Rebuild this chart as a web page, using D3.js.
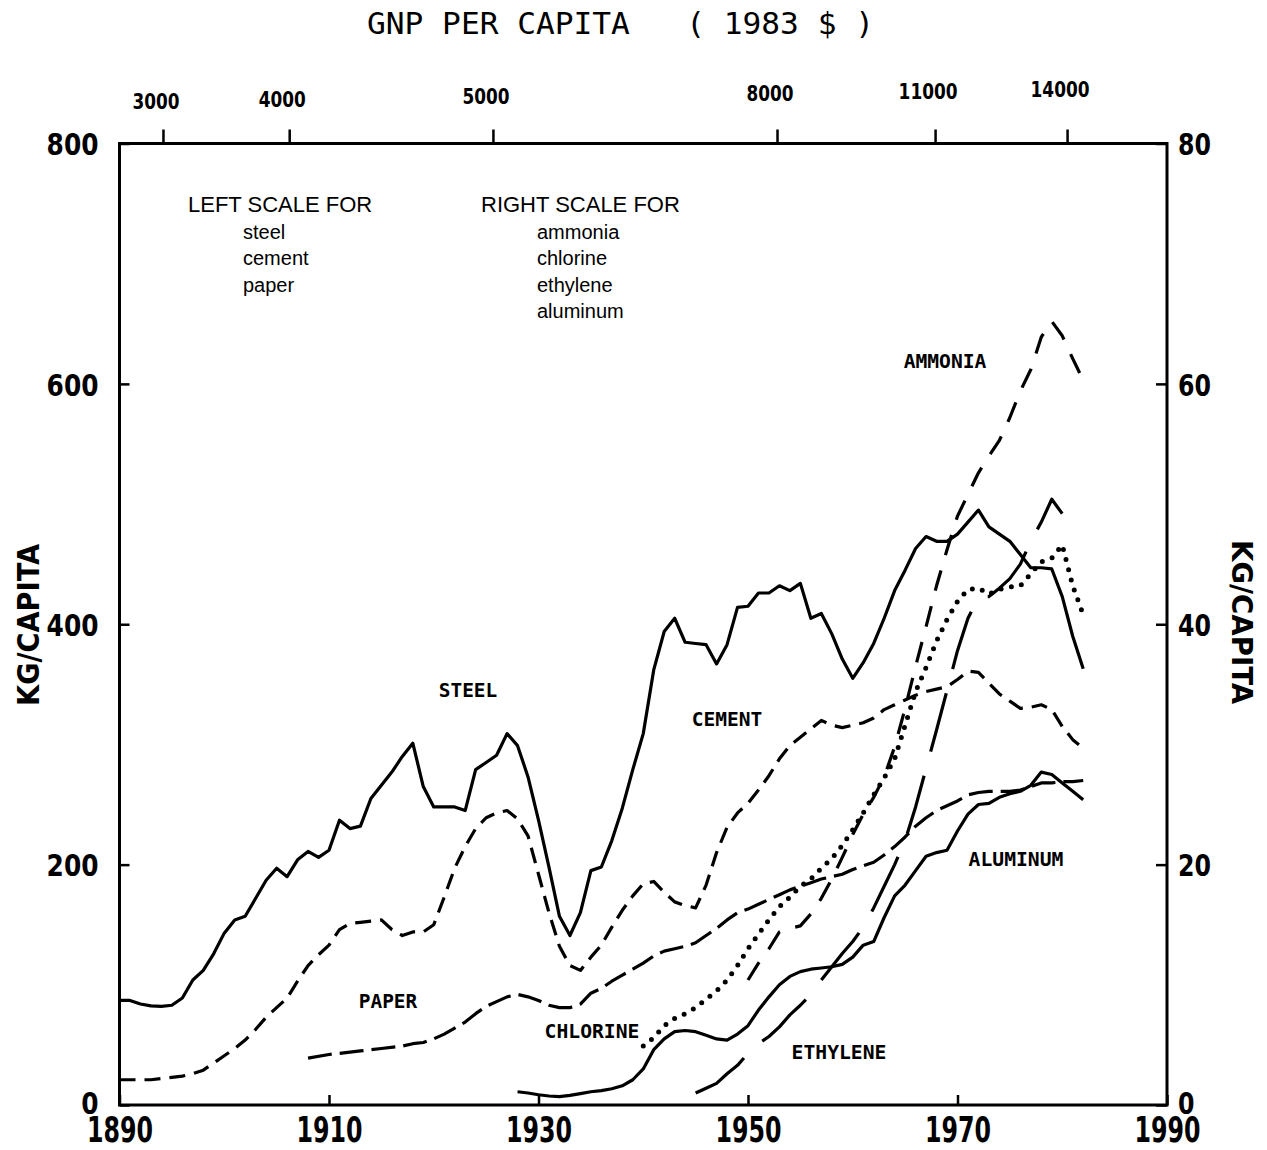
<!DOCTYPE html>
<html>
<head>
<meta charset="utf-8">
<title>Materials consumption per capita, 1890-1982</title>
<script src="https://cdn.jsdelivr.net/npm/d3@7/dist/d3.min.js"></script>
<style>
  html, body { margin: 0; padding: 0; background: #fff; }
  svg { display: block; }
</style>
</head>
<body>
<svg id="chart" width="1267" height="1150"></svg>
<script>
// ---- data: [year, kg per capita] ----
// left scale (0-800 kg/capita)
const steel = [[1890,87],[1891,87],[1892,84],[1893,82.5],[1894,82],[1895,83],[1896,89],[1897,104],[1898,112],[1899,126],[1900,143],[1901,154],[1902,157],[1903,172],[1904,187],[1905,197],[1906,190],[1907,204],[1908,211],[1909,206],[1910,212],[1911,237],[1912,230],[1913,232],[1914,255],[1915,266],[1916,277],[1917,290],[1918,301],[1919,265],[1920,248],[1921,248],[1922,248],[1923,245],[1924,279],[1925,285],[1926,291],[1927,309],[1928,299],[1929,273],[1930,237],[1931,198],[1932,157],[1933,141],[1934,160],[1935,195],[1936,198],[1937,220],[1938,247],[1939,279],[1940,309],[1941,362],[1942,394],[1943,405],[1944,385],[1945,384],[1946,383],[1947,367],[1948,383],[1949,414],[1950,415],[1951,426],[1952,426],[1953,432],[1954,428],[1955,434],[1956,405],[1957,409],[1958,392],[1959,371],[1960,355],[1961,368],[1962,384],[1963,405],[1964,428],[1965,445],[1966,463],[1967,473],[1968,469],[1969,469],[1970,475],[1971,485],[1972,495],[1973,481],[1974,475],[1975,469],[1976,458],[1977,447],[1978,447],[1979,446],[1980,423],[1981,390],[1982,363]];

const cement = [[1890,21],[1893,21],[1895,23],[1896,24],[1897,26],[1898,29],[1899,35],[1900,41],[1901,47],[1902,54],[1903,63],[1904,73],[1905,81],[1906,89],[1907,103],[1908,116],[1909,125],[1910,133],[1911,146],[1912,151],[1913,152],[1914,153],[1915,154],[1916,146],[1917,141],[1918,144],[1919,144],[1920,150],[1921,173],[1922,197],[1923,215],[1924,230],[1925,239],[1926,243],[1927,245],[1928,238],[1929,224],[1930,192],[1931,160],[1932,132],[1933,116],[1934,112],[1935,123],[1936,133],[1937,148],[1938,162],[1939,174],[1940,184],[1941,186],[1942,177],[1943,169],[1944,166],[1945,164],[1946,183],[1947,210],[1948,231],[1949,243],[1950,251],[1951,262],[1952,274],[1953,288],[1954,299],[1955,306],[1956,313],[1957,320],[1958,316],[1959,314],[1960,316],[1961,318],[1962,322],[1963,329],[1964,333],[1965,337],[1966,341],[1967,344],[1968,346],[1969,348],[1970,354],[1971,361],[1972,360],[1973,351],[1974,342],[1975,336],[1976,330],[1977,331],[1978,333],[1979,329],[1980,315],[1981,304],[1982,297]];

const paper = [[1908,39],[1910,42],[1913,45],[1915,47],[1917,49],[1918,51],[1919,52],[1920,55],[1921,59],[1922,64],[1923,69],[1924,76],[1925,82],[1926,86],[1927,90],[1928,92],[1929,90],[1930,87],[1931,83],[1932,81],[1933,81],[1934,84],[1935,93],[1936,97],[1937,103],[1938,108],[1939,113],[1940,118],[1941,124],[1942,128],[1943,130],[1944,132],[1945,135],[1946,141],[1947,147],[1948,154],[1949,160],[1950,163],[1951,167],[1952,171],[1953,175],[1954,179],[1955,182],[1956,185],[1957,188],[1958,190],[1959,192],[1960,196],[1961,199],[1962,202],[1963,208],[1964,215],[1965,223],[1966,232],[1967,239],[1968,245],[1969,249],[1970,253],[1971,258],[1972,260],[1973,261],[1974,261],[1975,261],[1976,262],[1977,265],[1978,268],[1979,268],[1980,269],[1981,269],[1982,270]];

// right scale (0-80 kg/capita)
const ammonia = [[1950,10.4],[1951,11.8],[1952,13.0],[1953,14.4],[1954,14.7],[1955,14.9],[1956,15.9],[1957,17.2],[1958,18.8],[1959,20.6],[1960,22.5],[1961,24.2],[1962,25.6],[1963,27.3],[1964,29.8],[1965,33.0],[1966,36.5],[1967,39.8],[1968,43.2],[1969,46.2],[1970,49.0],[1971,50.8],[1972,52.6],[1973,54.0],[1974,55.3],[1975,57.2],[1976,59.4],[1977,61.2],[1978,63.9],[1979,65.2],[1980,64.0],[1981,62.1],[1982,60.3]];

const chlorine = [[1940,4.9],[1941,5.6],[1942,6.6],[1943,7.2],[1944,7.6],[1945,8.1],[1946,8.8],[1947,9.5],[1948,10.4],[1949,11.6],[1950,13.0],[1951,14.2],[1952,15.4],[1953,16.5],[1954,17.3],[1955,18.2],[1956,18.8],[1957,19.7],[1958,20.5],[1959,21.6],[1960,22.9],[1961,24.3],[1962,25.8],[1963,27.2],[1964,28.8],[1965,31.6],[1966,34.4],[1967,36.4],[1968,38.6],[1969,40.4],[1970,41.9],[1971,42.9],[1972,43.0],[1973,42.5],[1974,42.9],[1975,43.1],[1976,43.2],[1977,44.2],[1978,45.2],[1979,45.5],[1980,46.6],[1981,43.2],[1982,40.8]];

const ethylene = [[1945,1.0],[1946,1.4],[1947,1.8],[1948,2.6],[1949,3.3],[1950,4.3],[1951,5.1],[1952,5.7],[1953,6.5],[1954,7.5],[1955,8.3],[1956,9.2],[1957,10.4],[1958,11.5],[1959,12.6],[1960,13.6],[1961,14.8],[1962,16.4],[1963,18.2],[1964,20.0],[1965,22.0],[1966,24.8],[1967,28.0],[1968,31.2],[1969,34.5],[1970,37.8],[1971,40.5],[1972,42.2],[1973,42.3],[1974,43.0],[1975,43.8],[1976,45.0],[1977,46.9],[1978,48.5],[1979,50.4],[1980,49.2]];

const aluminum = [[1928,1.1],[1929,1.0],[1930,0.85],[1931,0.75],[1932,0.7],[1933,0.8],[1934,0.95],[1935,1.1],[1936,1.2],[1937,1.35],[1938,1.6],[1939,2.1],[1940,3.0],[1941,4.6],[1942,5.5],[1943,6.1],[1944,6.2],[1945,6.1],[1946,5.8],[1947,5.5],[1948,5.4],[1949,5.9],[1950,6.6],[1951,7.9],[1952,9.0],[1953,10.0],[1954,10.7],[1955,11.1],[1956,11.3],[1957,11.4],[1958,11.5],[1959,11.7],[1960,12.3],[1961,13.3],[1962,13.6],[1963,15.6],[1964,17.4],[1965,18.3],[1966,19.5],[1967,20.7],[1968,21.0],[1969,21.2],[1970,22.8],[1971,24.2],[1972,25.0],[1973,25.1],[1974,25.6],[1975,25.9],[1976,26.1],[1977,26.6],[1978,27.7],[1979,27.5],[1980,26.8],[1981,26.1],[1982,25.4]];

// ---- axis ticks ----
const yearTicks = [1890, 1910, 1930, 1950, 1970, 1990];
const leftTicks = [0, 200, 400, 600, 800];
const rightTicks = [0, 20, 40, 60, 80];
// GNP per capita (1983 $) and the year at which each level was reached
const gnpTicks = [3000, 4000, 5000, 8000, 11000, 14000];
const gnpYears = [1894.15, 1906.2, 1925.65, 1952.77, 1967.86, 1980.46];

const leftLegend = ["steel", "cement", "paper"];
const rightLegend = ["ammonia", "chlorine", "ethylene", "aluminum"];

// ---- layout ----
const svg = d3.select("#chart");
const x  = d3.scaleLinear().domain([1890, 1990]).range([119.5, 1167]);
const yL = d3.scaleLinear().domain([0, 800]).range([1105, 143.5]);
const yR = d3.scaleLinear().domain([0, 80]).range([1105, 143.5]);
const gnp = d3.scaleLinear().domain(gnpTicks).range(gnpYears.map(x));

const BOLD = "'DejaVu Sans', Verdana, sans-serif";
const COND = "'DejaVu Sans Condensed', 'DejaVu Sans', sans-serif";
const MONO = "'DejaVu Sans Mono', 'Liberation Mono', monospace";
const SANS = "'Liberation Sans', Arial, Helvetica, sans-serif";

// title
svg.append("text")
  .attr("x", 367).attr("y", 34)
  .attr("font-family", MONO).attr("font-size", 30)
  .attr("textLength", 507).attr("lengthAdjust", "spacingAndGlyphs")
  .style("white-space", "pre")
  .text("GNP PER CAPITA   ( 1983 $ )");

// plot frame
svg.append("rect")
  .attr("x", x(1890)).attr("y", yL(800))
  .attr("width", x(1990) - x(1890)).attr("height", yL(0) - yL(800))
  .attr("fill", "none").attr("stroke", "#000").attr("stroke-width", 3);

function styleAxis(g) {
  g.select(".domain").remove();
  g.selectAll(".tick line").attr("stroke", "#000").attr("stroke-width", 2.5);
  g.selectAll(".tick text").attr("fill", "#000");
}

// bottom axis: years
const gB = svg.append("g")
  .attr("transform", `translate(0,${yL(0)})`)
  .call(d3.axisBottom(x).tickValues(yearTicks).tickSize(-10).tickFormat(d3.format("d")))
  .call(styleAxis);
gB.selectAll(".tick text")
  .attr("y", 37).attr("dy", 0)
  .attr("font-family", COND).attr("font-weight", "bold").attr("font-size", 36)
  .attr("textLength", 66).attr("lengthAdjust", "spacingAndGlyphs");

// left axis
const gL = svg.append("g")
  .attr("transform", `translate(${x(1890)},0)`)
  .call(d3.axisLeft(yL).tickValues(leftTicks).tickSize(-10).tickPadding(21))
  .call(styleAxis);
gL.selectAll(".tick text")
  .attr("dy", d => d === 0 ? "0.26em" : "0.36em")
  .attr("font-family", BOLD).attr("font-weight", "bold").attr("font-size", 31)
  .attr("textLength", d => String(d).length * 17.3).attr("lengthAdjust", "spacingAndGlyphs");

// right axis
const gR = svg.append("g")
  .attr("transform", `translate(${x(1990)},0)`)
  .call(d3.axisRight(yR).tickValues(rightTicks).tickSize(-11).tickPadding(11))
  .call(styleAxis);
gR.selectAll(".tick text")
  .attr("dy", d => d === 0 ? "0.26em" : "0.36em")
  .attr("font-family", BOLD).attr("font-weight", "bold").attr("font-size", 31)
  .attr("textLength", d => String(d).length * 16.5).attr("lengthAdjust", "spacingAndGlyphs");

// top axis: GNP per capita
const gT = svg.append("g")
  .attr("transform", `translate(0,${yL(800)})`)
  .call(d3.axisTop(gnp).tickValues(gnpTicks).tickSize(14).tickFormat(""))
  .call(styleAxis);
svg.append("g").selectAll("text")
  .data(gnpTicks)
  .join("text")
  .attr("x", d => gnp(d) - 7)
  .attr("y", d => 108.5 - (gnp(d) - 164) * 0.0125)
  .attr("text-anchor", "middle")
  .attr("font-family", COND).attr("font-weight", "bold").attr("font-size", 22)
  .attr("textLength", d => String(d).length * 12 - 1).attr("lengthAdjust", "spacingAndGlyphs")
  .text(d => d);

// axis titles
svg.append("text")
  .attr("transform", "translate(39,625) rotate(-90)")
  .attr("text-anchor", "middle")
  .attr("font-family", COND).attr("font-weight", "bold").attr("font-size", 30)
  .attr("textLength", 162).attr("lengthAdjust", "spacingAndGlyphs")
  .text("KG/CAPITA");
svg.append("text")
  .attr("transform", "translate(1232,622) rotate(90)")
  .attr("text-anchor", "middle")
  .attr("font-family", COND).attr("font-weight", "bold").attr("font-size", 29)
  .attr("textLength", 164).attr("lengthAdjust", "spacingAndGlyphs")
  .text("KG/CAPITA");

// scale notes
const notes = svg.append("g").attr("font-family", SANS).attr("fill", "#000");
notes.append("text").attr("x", 188).attr("y", 212).attr("font-size", 22).text("LEFT SCALE FOR");
notes.append("text").attr("x", 481).attr("y", 212).attr("font-size", 22).text("RIGHT SCALE FOR");
notes.append("g").selectAll("text").data(leftLegend).join("text")
  .attr("x", 243).attr("y", (d, i) => 238.5 + i * 26.6).attr("font-size", 20).text(d => d);
notes.append("g").selectAll("text").data(rightLegend).join("text")
  .attr("x", 537).attr("y", (d, i) => 238.5 + i * 26.6).attr("font-size", 20).text(d => d);

// ---- series ----
const lineL = d3.line().x(d => x(d[0])).y(d => yL(d[1]));
const lineR = d3.line().x(d => x(d[0])).y(d => yR(d[1]));

// fit: stretch the dash cycle slightly so the path both starts and ends inside a dash
const series = [
  { data: steel,    line: lineL, dash: null,      width: 3.2, cap: "butt" },
  { data: cement,   line: lineL, dash: [16, 9],   width: 3.2, cap: "butt" },
  { data: paper,    line: lineL, dash: [24, 8],   width: 3.2, cap: "butt" },
  { data: ammonia,  line: lineR, dash: [21, 16],  width: 3.2, cap: "butt" },
  { data: chlorine, line: lineR, dash: [0, 10.5], width: 5,   cap: "round" },
  { data: ethylene, line: lineR, dash: [58, 24], fit: true, width: 3.2, cap: "butt" },
  { data: aluminum, line: lineR, dash: null,      width: 3.2, cap: "butt" }
];

svg.append("g").selectAll("path")
  .data(series)
  .join("path")
  .attr("d", s => s.line(s.data))
  .attr("fill", "none")
  .attr("stroke", "#000")
  .attr("stroke-width", s => s.width)
  .attr("stroke-linejoin", "round")
  .attr("stroke-linecap", s => s.cap)
  .each(function (s) {
    if (!s.dash) return;
    let [on, off] = s.dash;
    if (s.fit) {
      const len = this.getTotalLength();
      const cycle = on + off;
      const n = Math.max(1, Math.round(len / cycle - 0.6));
      const k = len / ((n + 0.6) * cycle);
      on *= k; off *= k;
    }
    d3.select(this).attr("stroke-dasharray", `${on} ${off}`);
  });

// series labels
const labels = [
  { t: "STEEL",    cx: 468,  cy: 690 },
  { t: "CEMENT",   cx: 727,  cy: 719 },
  { t: "PAPER",    cx: 388,  cy: 1001 },
  { t: "CHLORINE", cx: 592,  cy: 1031 },
  { t: "ETHYLENE", cx: 839,  cy: 1052 },
  { t: "ALUMINUM", cx: 1016, cy: 859 },
  { t: "AMMONIA",  cx: 945,  cy: 361 }
];
svg.append("g").selectAll("text")
  .data(labels)
  .join("text")
  .attr("x", d => d.cx).attr("y", d => d.cy + 7.3)
  .attr("text-anchor", "middle")
  .attr("font-family", MONO).attr("font-weight", "bold").attr("font-size", 20)
  .attr("textLength", d => d.t.length * 12.1 - 2).attr("lengthAdjust", "spacingAndGlyphs")
  .text(d => d.t);
</script>
</body>
</html>
